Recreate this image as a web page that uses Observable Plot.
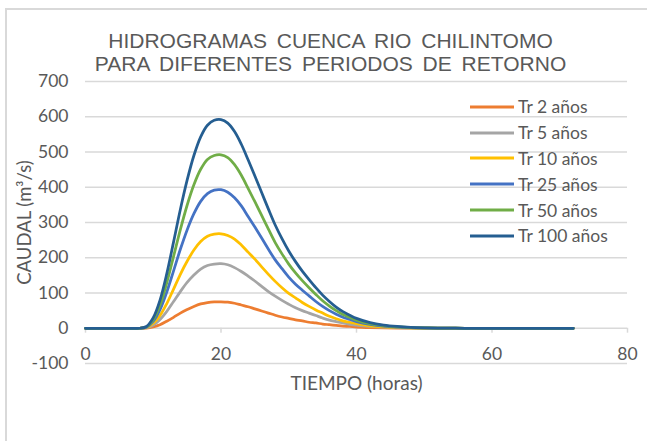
<!DOCTYPE html>
<html>
<head>
<meta charset="utf-8">
<script src="https://cdn.jsdelivr.net/npm/d3@7"></script>
<script src="https://cdn.jsdelivr.net/npm/@observablehq/plot@0.6"></script>
<style>
  html, body { margin: 0; padding: 0; background: #fff; }
  #wrap { position: relative; width: 647px; height: 441px; overflow: hidden; }
  #border { position: absolute; left: 5px; top: 8px; width: 700px; height: 500px; border: 2px solid #d9d9d9; box-sizing: border-box; }
  #chart { position: absolute; left: 0; top: 0; }
  #legend { position: absolute; left: 470px; top: 94px; font-family: Lato, "Liberation Sans", sans-serif; font-size: 17.5px; color: #595959; }
  #legend .item { height: 25.8px; display: flex; align-items: center; white-space: nowrap; }
  #legend svg { margin-right: 4px; }
  .ttl text { word-spacing: 4px; }
</style>
</head>
<body>
<div id="wrap">
  <div id="border"></div>
  <div id="chart"></div>
  <div id="legend"></div>
</div>
<script>
const title1 = "HIDROGRAMAS CUENCA RIO CHILINTOMO";
const title2 = "PARA DIFERENTES PERIODOS DE RETORNO";
const xLabel = "TIEMPO (horas)";
const yLabel = "CAUDAL (m³/s)";
const xTicks = [0, 20, 40, 60, 80];
const yTicks = [-100, 0, 100, 200, 300, 400, 500, 600, 700];

const seriesNames = ["Tr 2 años", "Tr 5 años", "Tr 10 años", "Tr 25 años", "Tr 50 años", "Tr 100 años"];
const seriesColors = ["#ED7D31", "#A5A5A5", "#FFC000", "#4472C4", "#70AD47", "#255E91"];

const hours = [0, 2, 4, 6, 7, 8, 9, 10, 11, 12, 13, 14, 15, 16, 17, 18, 19, 20, 21, 22, 23, 24, 25, 26, 27, 28, 29, 30, 31, 32, 33, 34, 35, 36, 37, 38, 39, 40, 42, 44, 46, 48, 50, 52, 56, 60, 64, 68, 72];

const tr2   = [0, 0, 0, 0, 0, 0, 0.6, 4, 10, 20, 31, 43, 53, 62, 69, 73, 75, 75, 74, 71, 66, 61, 55, 49, 43, 37, 32, 28, 24, 21, 17, 15, 12, 10, 8, 6, 5, 3.5, 2, 1.1, 0.6, 0.3, 0.15, 0, 0, 0, 0, 0, 0];
const tr5   = [0, 0, 0, 0, 0, 0, 1.5, 9, 25, 48, 76, 104, 130, 151, 168, 178, 182, 183, 180, 172, 161, 148, 134, 119, 104, 91, 79, 68, 58, 50, 43, 36, 29, 23, 19, 15, 11, 9, 5, 3, 1.5, 0.8, 0.4, 0.1, 0, 0, 0, 0, 0];
const tr10  = [0, 0, 0, 0, 0, 0, 2, 14, 36, 70, 111, 153, 190, 222, 246, 261, 267, 268, 263, 253, 236, 216, 196, 174, 153, 133, 115, 99, 86, 73, 62, 52, 43, 34, 27, 21, 17, 13, 7, 4, 2.3, 1.1, 0.5, 0.2, 0, 0, 0, 0, 0];
const tr25  = [0, 0, 0, 0, 0, 0, 3, 20, 53, 103, 163, 224, 279, 325, 360, 382, 392, 393, 386, 370, 347, 317, 287, 256, 224, 194, 169, 145, 125, 108, 92, 76, 62, 50, 40, 31, 25, 19, 11, 6, 3.3, 1.7, 0.8, 0.3, 0, 0, 0, 0, 0];
const tr50  = [0, 0, 0, 0, 0, 0, 4, 25, 66, 129, 204, 280, 349, 407, 451, 479, 490, 492, 484, 464, 434, 397, 359, 320, 281, 243, 211, 182, 157, 135, 115, 96, 78, 63, 50, 39, 31, 23, 13, 7.5, 4, 2, 1, 0.4, 0, 0, 0, 0, 0];
const tr100 = [0, 0, 0, 0, 0, 0, 5, 30, 80, 155, 245, 337, 420, 490, 543, 576, 590, 592, 582, 558, 522, 478, 432, 385, 338, 293, 254, 219, 189, 162, 138, 115, 94, 76, 60, 47, 37, 28, 16, 9, 5, 2.5, 1.2, 0.5, 0, 0, 0, 0, 0];

const allSeries = [tr2, tr5, tr10, tr25, tr50, tr100];
const data = allSeries.flatMap((vals, i) => vals.map((v, j) => ({ serie: seriesNames[i], t: hours[j], q: v })));

const gray = "#595959";
const font = "Lato, 'Liberation Sans', sans-serif";
const titleFont = "'Liberation Sans', Arial, sans-serif";

const plot = Plot.plot({
  width: 647,
  height: 441,
  marginLeft: 85,
  marginRight: 20,
  marginTop: 81,
  marginBottom: 78,
  style: { fontFamily: font, fontSize: "16px", color: gray, background: "transparent" },
  x: { domain: [0, 80], axis: null },
  y: { domain: [-100, 700], axis: null },
  color: { domain: seriesNames, range: seriesColors },
  marks: [
    Plot.ruleY(yTicks, { stroke: "#d9d9d9", strokeWidth: 1.5 }),
    Plot.ruleX(xTicks, { x: d => d, y1: 0, y2: -14, stroke: "#d9d9d9", strokeWidth: 1.5 }),
    Plot.text(yTicks, { x: 0, y: d => d, text: d => String(d), textAnchor: "end", dx: -17, fill: gray, fontSize: 17.5 }),
    Plot.text(xTicks, { x: d => d, y: 0, text: d => String(d), dy: 26, fill: gray, fontSize: 17.5 }),
    Plot.axisY({ ticks: [], tickSize: 0, label: yLabel, labelAnchor: "center", labelArrow: "none", labelOffset: 68, fontSize: 18.5, fill: gray }),
    Plot.line(data, { x: "t", y: "q", z: "serie", stroke: "serie", strokeWidth: 2.75, curve: "catmull-rom" }),
    Plot.text([title1], { frameAnchor: "top", text: d => d, dy: -48, fill: gray, fontSize: 21, fontFamily: titleFont, dx: -26, className: "ttl" }),
    Plot.text([title2], { frameAnchor: "top", text: d => d, dy: -25, fill: gray, fontSize: 21, fontFamily: titleFont, dx: -26, className: "ttl" }),
    Plot.text([xLabel], { frameAnchor: "bottom", text: d => d, dy: 26, fill: gray, fontSize: 19 })
  ]
});
document.getElementById("chart").appendChild(plot);

const legend = document.getElementById("legend");
seriesNames.forEach((name, i) => {
  const item = document.createElement("div");
  item.className = "item";
  item.innerHTML = `<svg width="44" height="6"><line x1="0" y1="3" x2="44" y2="3" stroke="${seriesColors[i]}" stroke-width="3"/></svg><span>${name}</span>`;
  legend.appendChild(item);
});
</script>
</body>
</html>
